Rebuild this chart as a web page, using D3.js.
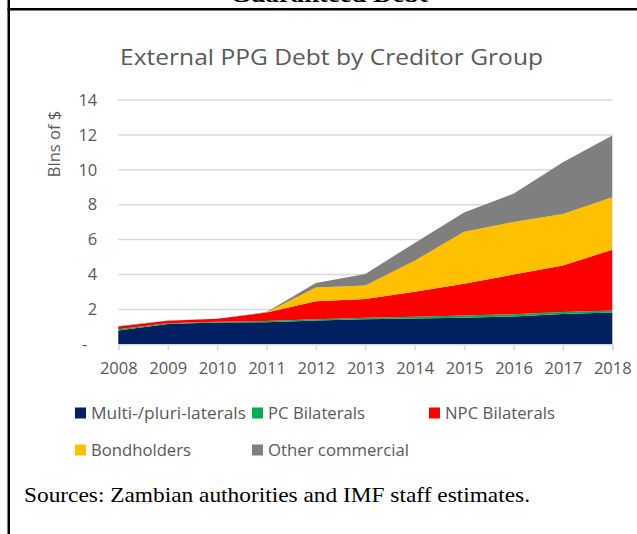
<!DOCTYPE html>
<html>
<head>
<meta charset="utf-8">
<script src="https://cdn.jsdelivr.net/npm/d3@7"></script>
<style>
  html, body { margin: 0; padding: 0; background: #fff; }
  svg { display: block; }
</style>
</head>
<body>
<svg id="chart" width="637" height="534"></svg>
<script>
// External PPG debt of Zambia by creditor group, billions of US$
const years = [2008, 2009, 2010, 2011, 2012, 2013, 2014, 2015, 2016, 2017, 2018];
const multilaterals = [0.79, 1.16, 1.25, 1.27, 1.37, 1.44, 1.48, 1.52, 1.60, 1.73, 1.82];
const pcBilaterals = [0.07, 0.05, 0.04, 0.06, 0.07, 0.08, 0.10, 0.13, 0.12, 0.12, 0.11];
const npcBilaterals = [0.16, 0.14, 0.17, 0.49, 1.03, 1.07, 1.43, 1.82, 2.28, 2.67, 3.49];
const bondholders = [0, 0, 0, 0, 0.79, 0.78, 1.78, 2.98, 3.01, 2.95, 3.00];
const otherCommercial = [0.03, 0.01, 0.01, 0.03, 0.25, 0.66, 1.02, 1.11, 1.62, 2.96, 3.54];

const seriesNames = ["Multi-/pluri-laterals", "PC Bilaterals", "NPC Bilaterals", "Bondholders", "Other commercial"];
const seriesValues = [multilaterals, pcBilaterals, npcBilaterals, bondholders, otherCommercial];
const seriesColors = ["#002060", "#00B050", "#FF0000", "#FFC000", "#7F7F7F"];
const yTicks = [0, 2, 4, 6, 8, 10, 12, 14];

const svg = d3.select("#chart");
const font = "'Open Sans', sans-serif";
const textGray = "#595959";

// frame of the surrounding box, with the heading of the box above it
svg.append("rect").attr("x", 7.5).attr("y", 0).attr("width", 2.5).attr("height", 534).attr("fill", "#000");
svg.append("rect").attr("x", 7.5).attr("y", 8).attr("width", 630).attr("height", 2.5).attr("fill", "#000");
svg.append("text")
  .attr("x", 230).attr("y", 1.5)
  .attr("textLength", 198).attr("lengthAdjust", "spacingAndGlyphs")
  .style("font-family", "'Liberation Serif', 'Times New Roman', serif")
  .style("font-weight", "bold").style("font-size", "23px").attr("fill", "#000")
  .text("Guaranteed Debt");

const x = d3.scaleLinear().domain([2008, 2018]).range([118.3, 612.3]);
const y = d3.scaleLinear().domain([0, 14]).range([344.3, 100]);

// title
svg.append("text")
  .attr("x", 120).attr("y", 65)
  .attr("textLength", 423).attr("lengthAdjust", "spacingAndGlyphs")
  .style("font-family", font).style("font-size", "21px").attr("fill", textGray)
  .text("External PPG Debt by Creditor Group");

// gridlines
svg.append("g")
  .selectAll("line")
  .data(yTicks.filter(d => d > 0))
  .join("line")
  .attr("x1", x(2008)).attr("x2", x(2018))
  .attr("y1", d => y(d)).attr("y2", d => y(d))
  .attr("stroke", "#D9D9D9").attr("stroke-width", 1.5);

// stacked areas
const table = years.map((yr, i) => {
  const row = { year: yr };
  seriesNames.forEach((n, s) => { row[n] = seriesValues[s][i]; });
  return row;
});
const stacked = d3.stack().keys(seriesNames)(table);
const area = d3.area()
  .x(d => x(d.data.year))
  .y0(d => y(d[0]))
  .y1(d => y(d[1]));

svg.append("g")
  .selectAll("path")
  .data(stacked)
  .join("path")
  .attr("d", area)
  .attr("fill", (d, i) => seriesColors[i]);

// x axis
const xAxis = d3.axisBottom(x)
  .tickValues(years)
  .tickFormat(d3.format("d"))
  .tickSize(6)
  .tickPadding(12);
const gx = svg.append("g").attr("transform", `translate(0,${y(0)})`).call(xAxis);
gx.select(".domain").attr("stroke", "#D9D9D9").attr("stroke-width", 1.5);
gx.selectAll(".tick line").attr("stroke", "#D9D9D9").attr("stroke-width", 1.5);
gx.selectAll(".tick text")
  .style("font-family", font).style("font-size", "16.5px").attr("fill", textGray);

// y axis labels (no axis line)
const yAxis = d3.axisLeft(y)
  .tickValues(yTicks)
  .tickFormat(d => d === 0 ? "-" : d3.format("d")(d))
  .tickSize(0)
  .tickPadding(21);
const gy = svg.append("g").attr("transform", `translate(${x(2008)},0)`).call(yAxis);
gy.select(".domain").remove();
gy.selectAll(".tick text")
  .style("font-family", font).style("font-size", "16.5px").attr("fill", textGray);
gy.selectAll(".tick").filter(d => d === 0).select("text").attr("dx", -10);

// y axis title
svg.append("text")
  .attr("transform", "translate(60,144) rotate(-90)")
  .attr("text-anchor", "middle")
  .style("font-family", font).style("font-size", "16.5px").attr("fill", textGray)
  .text("Blns of $");

// legend
const legendPos = [
  { x: 75, y: 413, w: 155 },
  { x: 252, y: 413, w: 97 },
  { x: 429, y: 413, w: 110 },
  { x: 75, y: 450, w: 100 },
  { x: 252, y: 450, w: 141 }
];
const lg = svg.append("g")
  .selectAll("g")
  .data(seriesNames)
  .join("g")
  .attr("transform", (d, i) => `translate(${legendPos[i].x},${legendPos[i].y})`);
lg.append("rect")
  .attr("x", 0).attr("y", -5.5).attr("width", 11).attr("height", 11)
  .attr("fill", (d, i) => seriesColors[i]);
lg.append("text")
  .attr("x", 16).attr("y", 6)
  .attr("textLength", (d, i) => legendPos[i].w).attr("lengthAdjust", "spacingAndGlyphs")
  .style("font-family", font).style("font-size", "16.5px").attr("fill", textGray)
  .text(d => d);

// source note
svg.append("text")
  .attr("x", 24).attr("y", 502)
  .attr("textLength", 506).attr("lengthAdjust", "spacingAndGlyphs")
  .style("font-family", "'Liberation Serif', 'Times New Roman', serif")
  .style("font-size", "21.5px").attr("fill", "#000")
  .text("Sources: Zambian authorities and IMF staff estimates.");
</script>
</body>
</html>
